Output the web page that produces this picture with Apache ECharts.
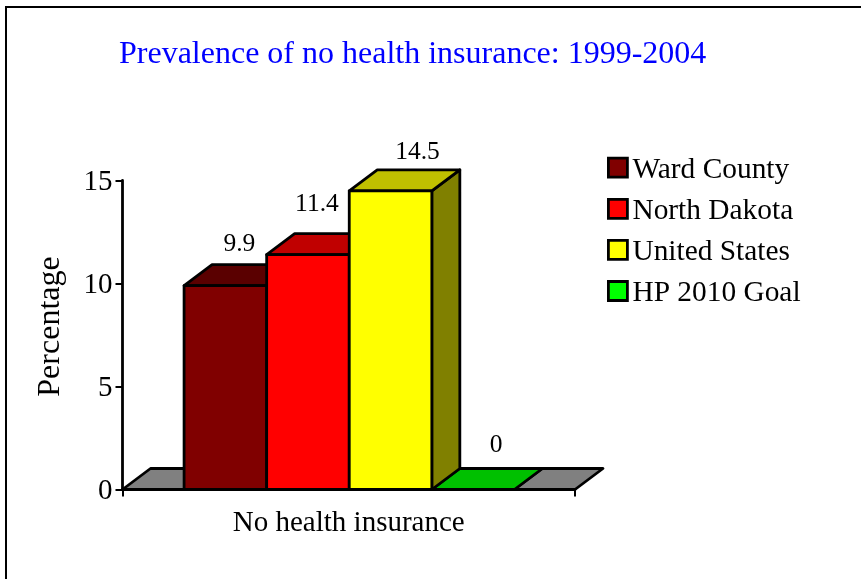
<!DOCTYPE html>
<html><head><meta charset="utf-8">
<style>html,body{margin:0;padding:0;background:#fff}#c{width:861px;height:579px}</style>
<script src="https://cdn.jsdelivr.net/npm/echarts@6/dist/echarts.min.js"></script>
</head><body><div id="c"></div>
<script>
const titleText = 'Prevalence of no health insurance: 1999-2004';
const categories = ['No health insurance'];
const seriesNames = ['Ward County', 'North Dakota', 'United States', 'HP 2010 Goal'];
const seriesValues = [9.9, 11.4, 14.5, 0];
const seriesLabels = ['9.9', '11.4', '14.5', '0'];
const frontColors = ['#800000', '#ff0000', '#ffff00', '#00ff00'];
const topColors = ['#5a0000', '#c00000', '#c0c000', '#00c000'];
const sideColors = ['#400000', '#800000', '#808000', '#008000'];
const labelNudge = [[0, 1], [-5, -8], [13, 3], [9, -2]];

const FONT = '"Liberation Serif","Times New Roman",serif';
const DX = 28, DY = -21, BAR_RATIO = 0.1825;
const edge = {stroke: '#000', lineWidth: 2.8, lineJoin: 'round'};
const poly = (points, fill) => ({type: 'polygon', shape: {points}, style: Object.assign({fill}, edge)});

function renderFloor(params, api) {
  const band = api.size([1, 0])[0];
  const c = api.coord([0, 0]);
  const l = c[0] - band / 2, r = c[0] + band / 2, y = c[1];
  return poly([[l, y], [r, y], [r + DX, y + DY], [l + DX, y + DY]], '#808080');
}
const renderBar = i => (params, api) => {
  const band = api.size([1, 0])[0];
  const w = band * BAR_RATIO;
  const base = api.coord([api.value(0), 0]);
  const top = api.coord([api.value(0), api.value(1)]);
  const l = base[0] + (i - 2) * w + 0.5, r = l + w, y0 = base[1], y1 = top[1];
  const children = [];
  children.push(poly([[r, y1], [r + DX, y1 + DY], [r + DX, y0 + DY], [r, y0]], sideColors[i]));
  children.push(poly([[l, y1], [r, y1], [r + DX, y1 + DY], [l + DX, y1 + DY]], topColors[i]));
  if (y0 - y1 > 0.5) children.push({type: 'rect', shape: {x: l, y: y1, width: w, height: y0 - y1},
    style: Object.assign({fill: frontColors[i]}, edge)});
  children.push({type: 'text', style: {
    text: seriesLabels[i],
    x: (l + r) / 2 + DX / 2 + labelNudge[i][0],
    y: y1 + DY - 21 + labelNudge[i][1],
    textAlign: 'center', textVerticalAlign: 'middle',
    fontFamily: FONT, fontSize: 25.5, fill: '#000'}});
  return {type: 'group', children};
};

const series = [{type: 'custom', name: 'floor', data: [[0, 0]], renderItem: renderFloor, silent: true, z: 2, clip: false}];
seriesNames.forEach((name, i) => series.push({
  type: 'custom', name, data: [[0, seriesValues[i]]], renderItem: renderBar(i),
  itemStyle: {color: frontColors[i]}, z: 3 + (i === 3 ? 0 : i), clip: false
}));

const chart = echarts.init(document.getElementById('c'), null, {renderer: 'canvas'});
chart.setOption({
  animation: false,
  backgroundColor: '#fff',
  textStyle: {fontFamily: FONT, color: '#000'},
  title: {text: titleText, left: 114, top: 34,
    textStyle: {fontFamily: FONT, fontSize: 32, fontWeight: 'normal', color: '#0000ff'}},
  legend: {
    left: 602, top: 150.7, orient: 'vertical', itemWidth: 19, itemHeight: 19, itemGap: 12.1,
    formatter: name => '{a|' + name + '}',
    textStyle: {fontFamily: FONT, fontSize: 29.4, color: '#000',
      rich: {a: {fontFamily: FONT, fontSize: 29.4, color: '#000', padding: [5, 0, 0, 0]}}},
    data: seriesNames.map((name, i) => ({name, icon: 'rect',
      itemStyle: {color: frontColors[i], borderColor: '#000', borderWidth: 2.8}})),
    selectedMode: false
  },
  grid: {left: 122.5, top: 180.5, width: 452.5, height: 309},
  xAxis: {type: 'category', data: categories,
    axisLine: {lineStyle: {color: '#000', width: 2.8}},
    axisTick: {show: true, length: 7, lineStyle: {color: '#000', width: 2}},
    axisLabel: {color: '#000', fontFamily: FONT, fontSize: 29, margin: 19}},
  yAxis: {type: 'value', min: 0, max: 15, interval: 5, name: 'Percentage',
    nameLocation: 'middle', nameRotate: 90, nameGap: 56,
    nameTextStyle: {color: '#000', fontFamily: FONT, fontSize: 32, padding: [0, 0, 0, 17]},
    splitLine: {show: false},
    axisLine: {show: true, lineStyle: {color: '#000', width: 2.8}},
    axisTick: {show: true, length: 7, lineStyle: {color: '#000', width: 2}},
    axisLabel: {color: '#000', fontFamily: FONT, fontSize: 29, margin: 10,
      formatter: '{a|{value}}',
      rich: {a: {fontFamily: FONT, fontSize: 29, color: '#000', padding: [4, 0, 0, 0]}}}},
  graphic: [
    {type: 'line', shape: {x1: 5, y1: 7, x2: 861, y2: 7}, silent: true, style: {stroke: '#000', lineWidth: 2}},
    {type: 'line', shape: {x1: 6, y1: 6, x2: 6, y2: 579}, silent: true, style: {stroke: '#000', lineWidth: 2}}
  ],
  series
});
</script></body></html>
